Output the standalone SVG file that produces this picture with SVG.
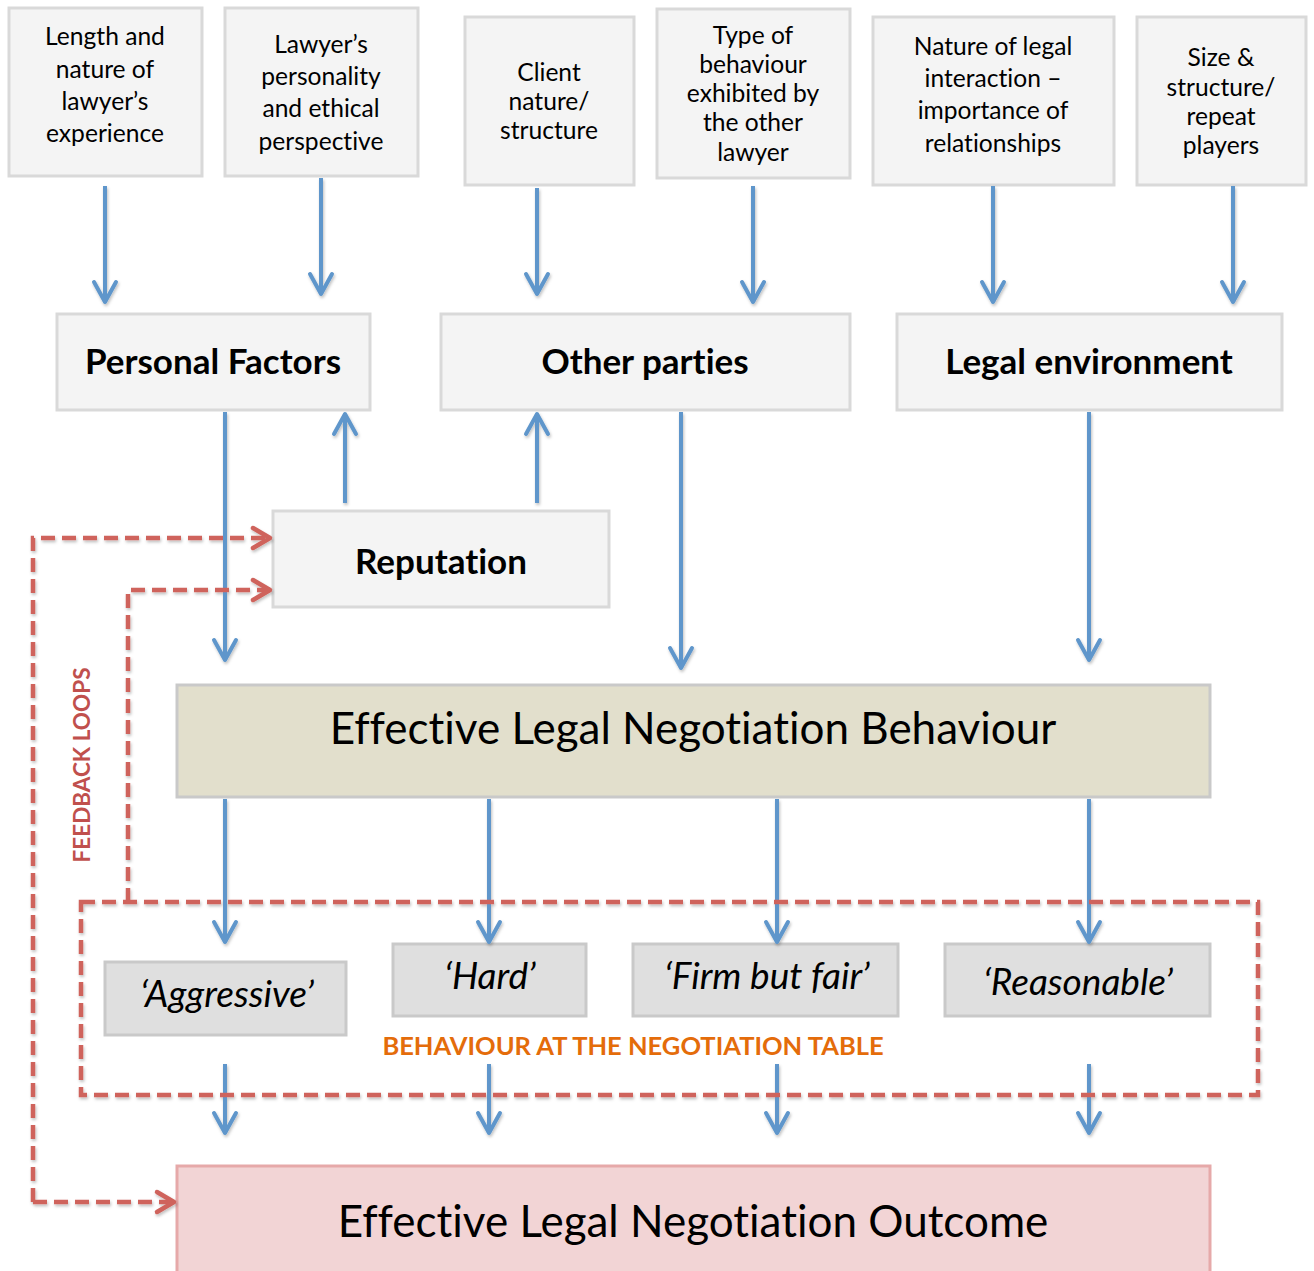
<svg xmlns="http://www.w3.org/2000/svg" width="1314" height="1271" viewBox="0 0 1314 1271">
  <defs>
    <style>
      text { font-family: Lato, "Open Sans", "Liberation Sans", sans-serif; fill: #000; text-anchor: middle; font-variant-ligatures: none; }
      .box { fill: #f4f4f4; stroke: #d9d9d9; stroke-width: 3; }
      .factor { font-size: 24.6px; }
      .head { font-size: 35px; font-weight: bold; }
      .big { font-size: 44px; }
      .style-box { fill: #dfdfdf; stroke: #c9c9c9; stroke-width: 3; }
      .style-txt { font-size: 37px; font-style: italic; }
      .flow { stroke: #5f96cb; stroke-width: 4; fill: none; marker-end: url(#blue-head); }
      .loop { stroke: #cf635c; stroke-width: 4.5; fill: none; stroke-dasharray: 14 7; }
      .loop-arrow { stroke: #cf635c; stroke-width: 4.5; fill: none; stroke-dasharray: 14 7; marker-end: url(#red-head); }
    </style>
    <marker id="blue-head" markerUnits="userSpaceOnUse" viewBox="-24 -14 28 28" refX="0" refY="0" markerWidth="28" markerHeight="28" orient="auto">
      <path d="M-20,-11 L0,0 L-20,11" fill="none" stroke="#5f96cb" stroke-width="4" stroke-linecap="round" stroke-linejoin="round"/>
    </marker>
    <marker id="red-head" markerUnits="userSpaceOnUse" viewBox="-24 -14 28 28" refX="0" refY="0" markerWidth="28" markerHeight="28" orient="auto">
      <path d="M-17,-10 L0,0 L-17,10" fill="none" stroke="#cf635c" stroke-width="4.5" stroke-linecap="round" stroke-linejoin="round"/>
    </marker>
    <filter id="soft" x="-20%" y="-20%" width="140%" height="140%">
      <feDropShadow dx="1" dy="2" stdDeviation="1.5" flood-color="#000" flood-opacity="0.25"/>
    </filter>
  </defs>

  <!-- top row: individual factors -->
  <g id="n-experience">
    <rect class="box" x="9" y="8" width="193" height="168"/>
    <text class="factor" x="105" y="45">Length and</text>
    <text class="factor" x="105" y="78">nature of</text>
    <text class="factor" x="105" y="110">lawyer’s</text>
    <text class="factor" x="105" y="142">experience</text>
  </g>
  <g id="n-personality">
    <rect class="box" x="225" y="8" width="193" height="168"/>
    <text class="factor" x="321" y="53">Lawyer’s</text>
    <text class="factor" x="321" y="85">personality</text>
    <text class="factor" x="321" y="117">and ethical</text>
    <text class="factor" x="321" y="150">perspective</text>
  </g>
  <g id="n-client">
    <rect class="box" x="465" y="17" width="169" height="168"/>
    <text class="factor" x="549" y="81">Client</text>
    <text class="factor" x="549" y="110">nature/</text>
    <text class="factor" x="549" y="139">structure</text>
  </g>
  <g id="n-other-lawyer">
    <rect class="box" x="657" y="9" width="193" height="169"/>
    <text class="factor" x="753" y="44">Type of</text>
    <text class="factor" x="753" y="73">behaviour</text>
    <text class="factor" x="753" y="102">exhibited by</text>
    <text class="factor" x="753" y="131">the other</text>
    <text class="factor" x="753" y="161">lawyer</text>
  </g>
  <g id="n-interaction">
    <rect class="box" x="873" y="17" width="241" height="168"/>
    <text class="factor" x="993" y="55">Nature of legal</text>
    <text class="factor" x="993" y="87">interaction –</text>
    <text class="factor" x="993" y="119">importance of</text>
    <text class="factor" x="993" y="152">relationships</text>
  </g>
  <g id="n-size">
    <rect class="box" x="1137" y="17" width="169" height="168"/>
    <text class="factor" x="1221" y="66">Size &amp;</text>
    <text class="factor" x="1221" y="96">structure/</text>
    <text class="factor" x="1221" y="125">repeat</text>
    <text class="factor" x="1221" y="154">players</text>
  </g>

  <!-- middle row: factor groups -->
  <g id="n-personal">
    <rect class="box" x="57" y="314" width="313" height="96"/>
    <text class="head" x="213" y="374">Personal Factors</text>
  </g>
  <g id="n-parties">
    <rect class="box" x="441" y="314" width="409" height="96"/>
    <text class="head" x="645" y="374">Other parties</text>
  </g>
  <g id="n-legal">
    <rect class="box" x="897" y="314" width="385" height="96"/>
    <text class="head" x="1089" y="374">Legal environment</text>
  </g>
  <g id="n-reputation">
    <rect class="box" x="273" y="511" width="336" height="96"/>
    <text class="head" x="441" y="574">Reputation</text>
  </g>

  <!-- behaviour and outcome -->
  <g id="n-behaviour">
    <rect x="177" y="685" width="1033" height="112" fill="#e2dfcc" stroke="#c9c9c9" stroke-width="3"/>
    <text class="big" x="693" y="744">Effective Legal Negotiation Behaviour</text>
  </g>
  <g id="n-aggressive">
    <rect class="style-box" x="105" y="962" width="241" height="73"/>
    <text class="style-txt" x="227" y="1007">‘Aggressive’</text>
  </g>
  <g id="n-hard">
    <rect class="style-box" x="393" y="944" width="193" height="72"/>
    <text class="style-txt" x="490" y="989">‘Hard’</text>
  </g>
  <g id="n-firm">
    <rect class="style-box" x="633" y="944" width="265" height="72"/>
    <text class="style-txt" x="767" y="989">‘Firm but fair’</text>
  </g>
  <g id="n-reasonable">
    <rect class="style-box" x="945" y="944" width="265" height="72"/>
    <text class="style-txt" x="1078" y="995">‘Reasonable’</text>
  </g>
  <g id="n-outcome">
    <rect x="177" y="1166" width="1033" height="110" fill="#f2d4d5" stroke="#e6a9a9" stroke-width="3"/>
    <text class="big" x="693" y="1237">Effective Legal Negotiation Outcome</text>
  </g>

  <!-- labels -->
  <g id="lbl-table">
    <text x="633" y="1055" font-size="25.5" font-weight="bold" style="fill:#e46c0a">BEHAVIOUR AT THE NEGOTIATION TABLE</text>
  </g>
  <g id="lbl-loops">
    <text transform="translate(90 765) rotate(-90)" font-size="22.5" font-weight="bold" style="fill:#c0504d">FEEDBACK LOOPS</text>
  </g>

  <!-- connectors -->
  <g id="connectors" filter="url(#soft)">
    <!-- factors into groups -->
    <line class="flow" x1="105" y1="186" x2="105" y2="302"/>
    <line class="flow" x1="321" y1="178" x2="321" y2="294"/>
    <line class="flow" x1="537" y1="188" x2="537" y2="294"/>
    <line class="flow" x1="753" y1="186" x2="753" y2="302"/>
    <line class="flow" x1="993" y1="186" x2="993" y2="302"/>
    <line class="flow" x1="1233" y1="186" x2="1233" y2="302"/>
    <!-- reputation back into groups -->
    <line class="flow" x1="345" y1="503" x2="345" y2="414"/>
    <line class="flow" x1="537" y1="503" x2="537" y2="414"/>
    <!-- groups into behaviour -->
    <line class="flow" x1="225" y1="412" x2="225" y2="660"/>
    <line class="flow" x1="681" y1="412" x2="681" y2="668"/>
    <line class="flow" x1="1089" y1="412" x2="1089" y2="660"/>
    <!-- behaviour into styles -->
    <line class="flow" x1="225" y1="799" x2="225" y2="942"/>
    <line class="flow" x1="489" y1="799" x2="489" y2="942"/>
    <line class="flow" x1="777" y1="799" x2="777" y2="942"/>
    <line class="flow" x1="1089" y1="799" x2="1089" y2="942"/>
    <!-- styles into outcome -->
    <line class="flow" x1="225" y1="1064" x2="225" y2="1133"/>
    <line class="flow" x1="489" y1="1064" x2="489" y2="1133"/>
    <line class="flow" x1="777" y1="1064" x2="777" y2="1133"/>
    <line class="flow" x1="1089" y1="1064" x2="1089" y2="1133"/>

    <!-- dashed frame round the negotiation table -->
    <rect class="loop" x="81" y="902" width="1177" height="193"/>
    <!-- feedback loops -->
    <path class="loop-arrow" d="M33,1202 L33,538 L270,538"/>
    <path class="loop-arrow" d="M33,1202 L174,1202"/>
    <path class="loop-arrow" d="M128,902 L128,590 L270,590"/>
  </g>
</svg>
